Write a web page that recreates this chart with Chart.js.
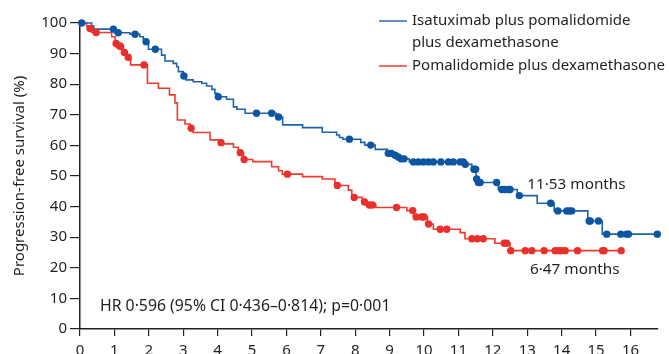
<!DOCTYPE html>
<html>
<head>
<meta charset="utf-8">
<script src="https://cdn.jsdelivr.net/npm/chart.js@4.4.1/dist/chart.umd.min.js"></script>
<style>
    html, body { margin: 0; padding: 0; background: #fff; }
    #wrap { width: 669px; height: 354px; position: relative; overflow: hidden; }
</style>
</head>
<body>
<div id="wrap"><canvas id="km" width="669" height="354"></canvas></div>
<script>
// Isatuximab + pomalidomide + dexamethasone: step points (event time, survival after drop)
const isaStepTimes = [0, 0.34, 0.40, 1.00, 1.45, 1.74, 1.84, 1.90, 1.99, 2.37, 2.47, 2.71, 2.81, 2.86, 3.00, 3.08, 3.29, 3.54, 3.68, 3.83, 3.92, 4.00, 4.26, 4.46, 4.56, 4.80, 5.70, 5.89, 6.47, 7.04, 7.46, 7.54, 7.64, 8.16, 8.28, 8.58, 8.93, 9.10, 9.20, 9.35, 9.57, 11.16, 11.39, 11.51, 11.55, 12.16, 12.71, 13.29, 13.78, 14.76, 15.18, 16.78];
const isaStepSurv  = [100, 99, 98, 96.8, 96.3, 95.5, 94.7, 93.9, 91.4, 89.5, 87.6, 86.8, 85.7, 84.1, 82.7, 81.4, 80.8, 80.3, 79.4, 78.3, 77.0, 75.9, 75.1, 72.6, 71.8, 70.5, 69.3, 66.7, 65.8, 64.3, 63.4, 62.6, 62.0, 61.0, 60.1, 58.7, 57.4, 56.8, 56.2, 55.6, 54.6, 53.8, 52.2, 49.0, 47.9, 45.6, 43.6, 41.1, 38.6, 35.3, 31.0, 31.0];
// censored patients
const isaCensorTimes = [0.05, 0.97, 1.11, 1.60, 1.92, 2.19, 3.02, 4.02, 5.13, 5.57, 5.77, 7.83, 8.45, 8.96, 9.05, 9.16, 9.25, 9.33, 9.42, 9.69, 9.83, 9.98, 10.13, 10.27, 10.49, 10.71, 10.85, 11.05, 11.14, 11.20, 11.45, 11.50, 11.53, 11.58, 11.63, 12.11, 12.26, 12.35, 12.44, 12.50, 12.77, 13.68, 13.89, 14.15, 14.22, 14.29, 14.80, 14.83, 15.07, 15.31, 15.72, 15.89, 15.94, 16.78];
const isaCensorSurv  = [100, 98, 96.8, 96.3, 93.9, 91.4, 82.7, 75.9, 70.5, 70.5, 69.3, 62.0, 60.1, 57.4, 57.4, 56.8, 56.2, 55.6, 55.6, 54.6, 54.6, 54.6, 54.6, 54.6, 54.6, 54.6, 54.6, 54.6, 54.6, 53.8, 52.2, 52.2, 49.0, 47.9, 47.9, 47.9, 45.6, 45.6, 45.6, 45.6, 43.6, 41.1, 38.6, 38.6, 38.6, 38.6, 35.3, 35.3, 35.3, 31.0, 31.0, 31.0, 31.0, 31.0];

// Pomalidomide + dexamethasone
const pdStepTimes = [0, 0.19, 0.34, 0.92, 1.02, 1.12, 1.20, 1.27, 1.35, 1.40, 1.47, 1.96, 2.28, 2.60, 2.76, 2.83, 3.05, 3.20, 3.29, 3.78, 4.05, 4.17, 4.46, 4.60, 4.75, 5.02, 5.57, 5.77, 5.88, 6.47, 7.04, 7.41, 7.80, 7.90, 8.20, 8.35, 8.60, 9.50, 9.70, 10.10, 10.27, 11.05, 11.19, 12.06, 12.50, 15.73];
const pdStepSurv  = [100, 99, 96.9, 95.5, 93.3, 92.6, 91.5, 90.4, 89.5, 88.8, 86.3, 80.3, 78.7, 76.5, 73.9, 68.3, 67.0, 65.6, 64.2, 61.8, 60.9, 60.5, 59.4, 57.6, 55.4, 54.7, 53.0, 51.7, 50.6, 49.8, 49.0, 46.9, 45.4, 43.0, 41.5, 40.5, 39.7, 38.7, 36.6, 34.3, 32.6, 31.5, 29.5, 28.0, 25.6, 25.6];
const pdCensorTimes = [0.29, 0.47, 1.05, 1.14, 1.18, 1.29, 1.40, 1.86, 3.23, 4.10, 4.66, 4.77, 6.03, 7.48, 7.97, 8.27, 8.41, 8.50, 9.20, 9.67, 9.77, 9.93, 10.00, 10.13, 10.47, 10.66, 11.39, 11.55, 11.72, 12.33, 12.40, 12.52, 12.94, 13.13, 13.49, 13.81, 13.90, 14.00, 14.10, 14.46, 15.19, 15.23, 15.73];
const pdCensorSurv  = [98.2, 96.9, 93.3, 92.6, 92.3, 90.4, 88.8, 86.3, 65.6, 60.9, 57.6, 55.4, 50.6, 46.9, 43.0, 41.5, 40.5, 40.5, 39.7, 38.7, 36.6, 36.6, 36.6, 34.3, 32.6, 32.6, 29.5, 29.5, 29.5, 28.0, 28.0, 25.6, 25.6, 25.6, 25.6, 25.6, 25.6, 25.6, 25.6, 25.6, 25.6, 25.6, 25.6];

const xTickValues = [0, 1, 2, 3, 4, 5, 6, 7, 8, 9, 10, 11, 12, 13, 14, 15, 16];
const seriesLabels = ['Isatuximab plus pomalidomide\nplus dexamethasone', 'Pomalidomide plus dexamethasone'];
const medianLabels = ['11·53 months', '6·47 months'];
const hrText = 'HR 0·596 (95% CI 0·436–0·814); p=0·001';
const yTitle = 'Progression-free survival (%)';

const BLUE = '#1f63ab';
const BLUE_DOT = '#0c55a2';
const RED = '#ef3a2d';
const RED_DOT = '#e9302a';
const TEXT = '#231f20';
const FONT = "'Noto Sans', sans-serif";

const toPoints = (xs, ys) => xs.map((x, i) => ({ x: x, y: ys[i] }));

// draws the legend, the median labels and the HR line
const annotations = {
    id: 'annotations',
    afterDraw(chart) {
        const ctx = chart.ctx;
        const xs = chart.scales.x, ys = chart.scales.y;
        ctx.save();
        ctx.fillStyle = TEXT;
        ctx.textBaseline = 'middle';
        ctx.textAlign = 'left';

        // legend
        ctx.font = '15px ' + FONT;
        const legendRows = [
            { color: '#2a6cb3', lines: seriesLabels[0].split('\n'), y: 21 },
            { color: RED, lines: seriesLabels[1].split('\n'), y: 66 }
        ];
        legendRows.forEach(row => {
            ctx.strokeStyle = row.color;
            ctx.lineWidth = 1.5;
            ctx.beginPath();
            ctx.moveTo(379, row.y);
            ctx.lineTo(407, row.y);
            ctx.stroke();
            row.lines.forEach((t, i) => ctx.fillText(t, 412, row.y + i * 21.5));
        });

        // medians
        ctx.font = '15.3px ' + FONT;
        ctx.fillText(medianLabels[0], xs.getPixelForValue(13.0), ys.getPixelForValue(47.1));
        ctx.fillText(medianLabels[1], xs.getPixelForValue(13.08), ys.getPixelForValue(19.3));

        // hazard ratio
        ctx.font = '15.8px ' + FONT;
        ctx.fillText(hrText, xs.getPixelForValue(0.58), ys.getPixelForValue(7.2));
        ctx.restore();
    }
};

const ctx = document.getElementById('km').getContext('2d');
new Chart(ctx, {
    type: 'line',
    data: {
        datasets: [
            {
                label: seriesLabels[0],
                data: toPoints(isaStepTimes, isaStepSurv),
                borderColor: BLUE,
                borderWidth: 1.6,
                stepped: 'before',
                pointRadius: 0,
                fill: false,
                order: 2
            },
            {
                label: seriesLabels[1],
                data: toPoints(pdStepTimes, pdStepSurv),
                borderColor: RED,
                borderWidth: 1.6,
                stepped: 'before',
                pointRadius: 0,
                fill: false,
                order: 3
            },
            {
                type: 'scatter',
                label: 'censored-isa',
                data: toPoints(isaCensorTimes, isaCensorSurv),
                backgroundColor: BLUE_DOT,
                borderWidth: 0,
                pointRadius: 3.7,
                order: 0
            },
            {
                type: 'scatter',
                label: 'censored-pd',
                data: toPoints(pdCensorTimes, pdCensorSurv),
                backgroundColor: RED_DOT,
                borderWidth: 0,
                pointRadius: 3.7,
                order: 1
            }
        ]
    },
    options: {
        responsive: false,
        animation: false,
        clip: false,
        layout: { padding: { top: 23, right: 11, bottom: 0, left: 0 } },
        plugins: { legend: { display: false }, tooltip: { enabled: false } },
        elements: { line: { tension: 0 } },
        scales: {
            x: {
                type: 'linear',
                min: 0,
                max: 16.8,
                afterFit: scale => { scale.height = 25; },
                afterBuildTicks: scale => {
                    scale.ticks = xTickValues.map(v => ({ value: v }));
                },
                ticks: { color: TEXT, font: { family: FONT, size: 15 }, padding: 6, maxRotation: 0, autoSkip: false },
                grid: { display: true, drawOnChartArea: false, drawTicks: true, tickLength: 7, color: TEXT, lineWidth: 1.2 },
                border: { display: true, color: TEXT, width: 1.5 }
            },
            y: {
                min: 0,
                max: 100,
                afterFit: scale => { scale.width = 80; },
                ticks: { stepSize: 10, color: TEXT, font: { family: FONT, size: 15 }, padding: 3 },
                grid: { display: true, drawOnChartArea: false, drawTicks: true, tickLength: 10, color: TEXT, lineWidth: 1.2 },
                border: { display: true, color: TEXT, width: 1.5 },
                title: { display: true, text: yTitle, color: TEXT, font: { family: FONT, size: 15 }, padding: { top: 11, bottom: 0 } }
            }
        }
    },
    plugins: [annotations]
});
</script>
</body>
</html>
